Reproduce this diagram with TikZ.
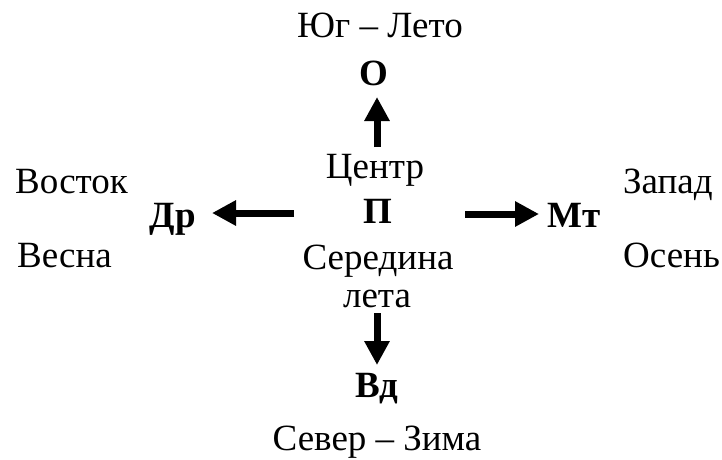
\documentclass[tikz,border=0pt]{standalone}
\usepackage{fontspec}
\setmainfont{Liberation Serif}
\usetikzlibrary{arrows.meta}
\begin{document}
\begin{tikzpicture}[x=1pt,y=-1pt,
  lbl/.style={inner sep=0pt,anchor=base,font=\fontsize{37}{40}\selectfont},
  lblw/.style={lbl,anchor=base west},
  key/.style={lbl,font=\fontsize{37}{40}\selectfont\bfseries},
  dir/.style={line width=7pt,-{Triangle[length=24pt,width=24pt]}}]
  \useasboundingbox (0,0) rectangle (722,459);
  % vertical axis
  \node[lbl] (south) at (380,37) {Юг – Лето};
  \node[key] (O) at (374,85) {О};
  \node[lbl] (center) at (375,178) {Центр};
  \node[key] (P) at (378,223) {П};
  \node[lbl] (mid) at (378,269) {Середина};
  \node[lbl] (midb) at (377,307) {лета};
  \node[key] (Vd) at (377,397) {Вд};
  \node[lbl] (north) at (377,450) {Север – Зима};
  % horizontal axis
  \node[lblw] (east) at (15,193) {Восток};
  \node[lblw] (spring) at (17,267) {Весна};
  \node[key] (Dr) at (173,227) {Др};
  \node[key] (Mt) at (574,227) {Мт};
  \node[lblw] (west) at (623,193) {Запад};
  \node[lblw] (autumn) at (623,267) {Осень};
  % arrow ends
  \coordinate (upA) at (377,147);
  \coordinate (upB) at (377,97);
  \coordinate (dnA) at (377,313);
  \coordinate (dnB) at (377,365);
  \coordinate (lfA) at (294,213);
  \coordinate (lfB) at (212,213);
  \coordinate (rtA) at (465,214);
  \coordinate (rtB) at (539,214);
  \draw[dir] (upA) -- (upB);
  \draw[dir] (dnA) -- (dnB);
  \draw[dir] (lfA) -- (lfB);
  \draw[dir] (rtA) -- (rtB);
\end{tikzpicture}
\end{document}
